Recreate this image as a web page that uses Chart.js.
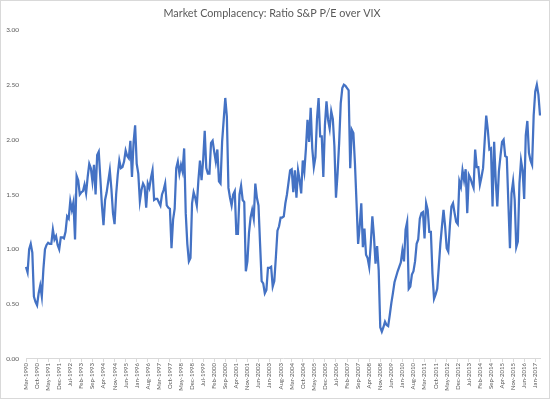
<!DOCTYPE html>
<html>
<head>
<meta charset="utf-8">
<script src="https://cdn.jsdelivr.net/npm/chart.js@4.4.1/dist/chart.umd.min.js"></script>
<style>
    html, body { margin: 0; padding: 0; background: #fff; }
    #wrap { width: 550px; height: 399px; }
</style>
</head>
<body>
<div id="wrap"><canvas id="chartRatio" width="550" height="399"></canvas></div>
<script>
// serie mensal, comeca em Mar-1990 e termina em Apr-2017
const mesInicial = 2;      // marco (0 = jan)
const anoInicial = 1990;
const nomesMeses = ['Jan', 'Feb', 'Mar', 'Apr', 'May', 'Jun', 'Jul', 'Aug', 'Sep', 'Oct', 'Nov', 'Dec'];
const passoRotulo = 7;     // um rotulo a cada 7 meses

const ratio = [
    0.84, 0.79, 1.00, 1.05, 0.97, 0.57, 0.52, 0.49, 0.60, 0.67,
    0.57, 0.82, 1.00, 1.04, 1.06, 1.05, 1.05, 1.18, 1.09, 1.12, 1.04, 1.00,
    1.11, 1.11, 1.10, 1.16, 1.30, 1.28, 1.44, 1.36, 1.43, 1.09, 1.67, 1.63,
    1.50, 1.52, 1.53, 1.59, 1.51, 1.66, 1.78, 1.74, 1.62, 1.77, 1.50, 1.86,
    1.89, 1.65, 1.40, 1.22, 1.45, 1.52, 1.62, 1.72, 1.55, 1.33, 1.23, 1.50,
    1.68, 1.81, 1.74, 1.75, 1.80, 1.90, 1.85, 1.83, 1.99, 1.66, 1.97, 2.13,
    1.78, 1.69, 1.44, 1.54, 1.60, 1.57, 1.38, 1.60, 1.56, 1.65, 1.72, 1.45,
    1.46, 1.46, 1.43, 1.40, 1.50, 1.54, 1.60, 1.40, 1.38, 1.37, 1.01, 1.27,
    1.37, 1.74, 1.80, 1.69, 1.77, 1.71, 1.92, 1.33, 1.05, 0.89, 0.92, 1.42,
    1.52, 1.47, 1.40, 1.63, 1.81, 1.63, 1.81, 2.08, 1.74, 1.69, 1.69, 1.97,
    1.99, 1.89, 1.80, 1.91, 1.62, 1.60, 1.98, 2.18, 2.38, 2.21, 1.56, 1.47,
    1.40, 1.50, 1.53, 1.14, 1.14, 1.50, 1.58, 1.45, 1.43, 0.80, 0.89, 1.15,
    1.29, 1.36, 1.28, 1.60, 1.47, 1.40, 1.05, 0.71, 0.69, 0.60, 0.63, 0.83,
    0.83, 0.84, 0.66, 0.71, 0.93, 1.17, 1.21, 1.29, 1.29, 1.30, 1.42, 1.50,
    1.61, 1.72, 1.73, 1.52, 1.72, 1.47, 1.72, 1.63, 1.51, 1.81, 1.71, 1.92,
    2.18, 1.98, 2.29, 1.92, 1.75, 1.84, 2.19, 2.38, 2.03, 2.03, 1.66, 2.13,
    2.35, 2.18, 2.10, 2.26, 2.19, 1.94, 1.47, 1.69, 1.97, 2.33, 2.47, 2.50,
    2.49, 2.47, 2.45, 1.74, 2.09, 2.06, 1.78, 1.42, 1.05, 1.21, 1.42, 1.02,
    1.19, 0.95, 0.92, 0.84, 1.05, 1.30, 1.12, 0.87, 1.03, 0.81, 0.29, 0.25,
    0.29, 0.34, 0.31, 0.30, 0.40, 0.51, 0.60, 0.70, 0.75, 0.80, 0.84, 0.88,
    0.99, 0.89, 1.18, 1.25, 0.64, 0.66, 0.77, 0.80, 0.89, 1.05, 1.09, 1.28,
    1.33, 1.34, 1.10, 1.42, 1.36, 1.16, 1.16, 0.78, 0.55, 0.59, 0.64, 0.84,
    1.05, 1.21, 1.36, 1.21, 1.01, 0.98, 1.21, 1.39, 1.42, 1.33, 1.25, 1.23,
    1.62, 1.57, 1.72, 1.63, 1.73, 1.33, 1.68, 1.65, 1.60, 1.56, 1.91, 1.75,
    1.75, 1.59, 1.66, 1.74, 1.98, 2.22, 2.09, 1.91, 1.92, 1.39, 1.98, 1.63,
    1.39, 1.71, 1.85, 1.98, 2.00, 1.85, 1.84, 1.42, 1.01, 1.51, 1.62, 1.45,
    1.02, 1.07, 1.60, 1.81, 1.72, 1.46, 2.04, 2.17, 1.88, 1.81, 1.77, 2.22,
    2.44, 2.50, 2.41, 2.22
];

function gerarMeses(qtd) {
    var lista = [];
    for (var i = 0; i < qtd; i++) {
        var m = (mesInicial + i) % 12;
        var a = anoInicial + Math.floor((mesInicial + i) / 12);
        lista.push(nomesMeses[m] + '-' + a);
    }
    return lista;
}

const meses = gerarMeses(ratio.length);
const corTexto = '#595959';
const corEixo = '#d9d9d9';

const moldura = {
    id: 'moldura',
    beforeDraw: function (chart) {
        const ctx = chart.ctx;
        ctx.save();
        ctx.fillStyle = '#ffffff';
        ctx.fillRect(0, 0, chart.width, chart.height);
        ctx.strokeStyle = corEixo;
        ctx.lineWidth = 1;
        ctx.strokeRect(0.5, 0.5, chart.width - 1, chart.height - 1);
        ctx.restore();
    }
};

const data = {
    labels: meses,
    datasets: [{
        label: 'Ratio S&P P/E over VIX',
        data: ratio,
        borderColor: '#4472c4',
        backgroundColor: '#4472c4',
        borderWidth: 2.25,
        pointRadius: 0,
        tension: 0,
        fill: false
    }]
};

const config = {
    type: 'line',
    data: data,
    options: {
        responsive: false,
        animation: false,
        layout: {
            padding: { left: 4, right: 10, top: 4, bottom: 4 }
        },
        plugins: {
            title: {
                display: true,
                text: 'Market Complacency: Ratio S&P P/E over VIX',
                color: corTexto,
                font: { family: 'Lato', size: 10.8, weight: 'normal' },
                padding: { top: 3, bottom: 10 }
            },
            legend: { display: false },
            tooltip: { enabled: false }
        },
        scales: {
            x: {
                offset: false,
                grid: {
                    display: true,
                    drawOnChartArea: false,
                    drawTicks: true,
                    tickLength: 3,
                    color: corEixo
                },
                border: { display: true, color: corEixo, width: 1 },
                ticks: {
                    autoSkip: false,
                    minRotation: 90,
                    maxRotation: 90,
                    padding: 1,
                    color: corTexto,
                    font: { family: 'Lato', size: 6 },
                    callback: function (valor, i) {
                        return i % passoRotulo === 0 ? meses[i] : null;
                    }
                },
                afterFit: function (s) { s.height = 36; }
            },
            y: {
                min: 0,
                max: 3,
                grid: { display: false, drawTicks: false },
                border: { display: false },
                ticks: {
                    stepSize: 0.5,
                    padding: 7,
                    color: corTexto,
                    font: { family: 'Lato', size: 6.5 },
                    callback: function (valor) { return valor.toFixed(2); }
                },
                afterFit: function (s) { s.width = 22; }
            }
        }
    },
    plugins: [moldura]
};

const chartRatio = new Chart(document.getElementById('chartRatio'), config);
</script>
</body>
</html>
